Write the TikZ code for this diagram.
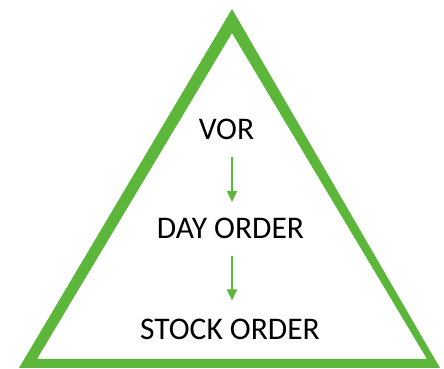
\documentclass[tikz,border=0pt]{standalone}
\usepackage{fontspec}
\setmainfont{Carlito}
\usetikzlibrary{arrows.meta}
\definecolor{tgreen}{RGB}{92,182,58}
\tikzset{
  lbl/.style={inner sep=0pt, font=\fontsize{31.5}{33}\selectfont, text=black},
  arr/.style={draw=tgreen, line width=2.4pt, -{Triangle[length=11pt,width=10pt]}}
}
\begin{document}
\begin{tikzpicture}[x=1pt,y=1pt]
\useasboundingbox (0,0) rectangle (444,369);
% triangle frame (outer minus inner)
\fill[tgreen, even odd rule]
  (232,360) -- (19,1) -- (440,1) -- cycle
  (232,336) -- (37,10) -- (427,10) -- cycle;
\node[lbl] (vor) at (226.5,239.5) {VOR};
\node[lbl] (day) at (230.5,140.5) {DAY ORDER};
\node[lbl] (stock) at (230,40) {STOCK ORDER};
\draw[arr, shorten <=17pt, shorten >=16pt] ([xshift=5.5pt]vor.south) -- ([xshift=1.5pt]day.north);
\draw[arr, shorten <=17pt, shorten >=18pt] ([xshift=1.5pt]day.south) -- ([xshift=2pt]stock.north);
\end{tikzpicture}
\end{document}
